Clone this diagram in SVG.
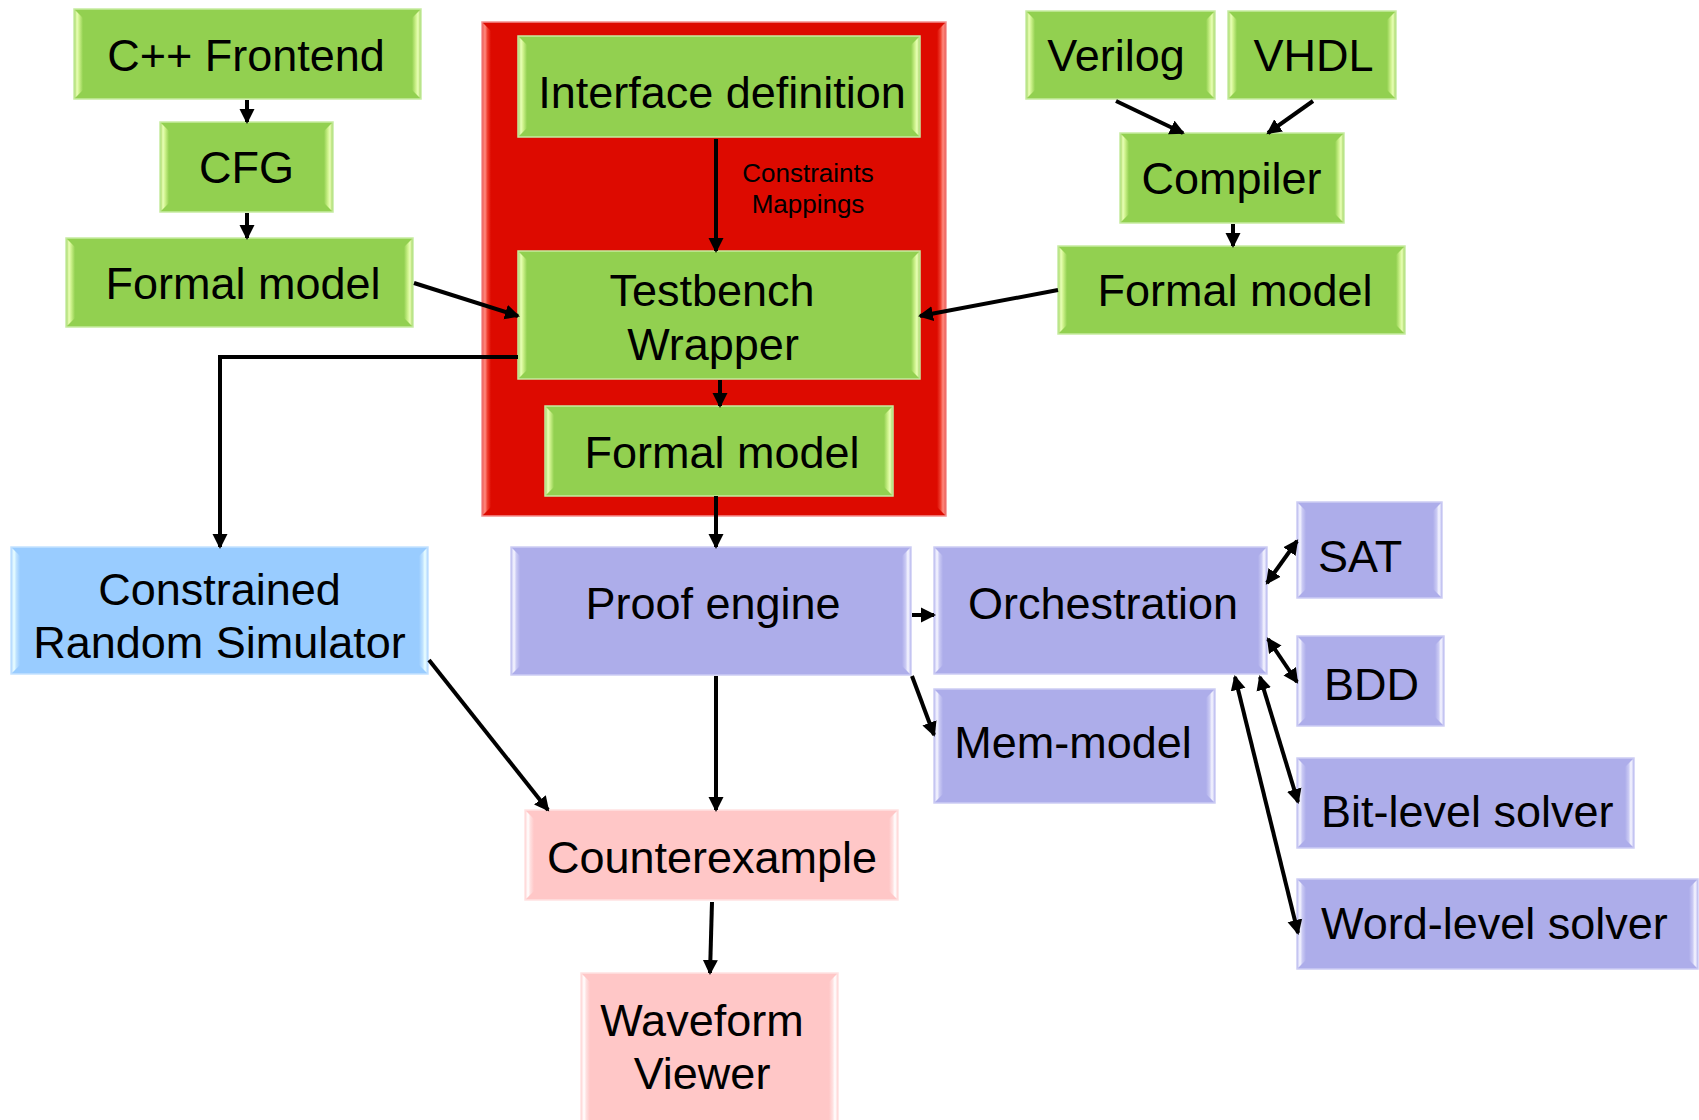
<svg xmlns="http://www.w3.org/2000/svg" width="1699" height="1120" viewBox="0 0 1699 1120">
  <defs>
    <style>
      text { font-family: "Liberation Sans", Arial, Helvetica, sans-serif; fill: #000; }
      .t { font-size: 45px; text-anchor: middle; }
      .tl { font-size: 45px; text-anchor: start; }
      .small { font-size: 26px; text-anchor: middle; }
      .edge { fill: none; stroke: #000; stroke-width: 4; }
      .one { marker-end: url(#head); }
      .two { marker-start: url(#head); marker-end: url(#head); }
      .green { fill: #92d050; stroke: #c6eba0; stroke-width: 1.5; }
      .red { fill: #dd0a00; stroke: #f39090; stroke-width: 1.5; }
      .purple { fill: #adadea; stroke: #cdcdf4; stroke-width: 1.5; }
      .blue { fill: #99ccff; stroke: #c4e2ff; stroke-width: 1.5; }
      .pink { fill: #ffc7c7; stroke: #ffe2e2; stroke-width: 1.5; }
    </style>
    <!-- side bevel highlights, one pair per fill colour -->
    <linearGradient id="gL-green" x1="0" y1="0" x2="1" y2="0">
      <stop offset="0" stop-color="#b8e07a"/>
      <stop offset="0.25" stop-color="#e8ffb6"/>
      <stop offset="0.5" stop-color="#d0f38e"/>
      <stop offset="1" stop-color="#92d050"/>
    </linearGradient>
    <linearGradient id="gR-green" x1="1" y1="0" x2="0" y2="0">
      <stop offset="0" stop-color="#b8e07a"/>
      <stop offset="0.25" stop-color="#e8ffb6"/>
      <stop offset="0.5" stop-color="#d0f38e"/>
      <stop offset="1" stop-color="#92d050"/>
    </linearGradient>
    <linearGradient id="gL-red" x1="0" y1="0" x2="1" y2="0">
      <stop offset="0" stop-color="#f06a60"/>
      <stop offset="0.25" stop-color="#ff8a80"/>
      <stop offset="0.55" stop-color="#f04030"/>
      <stop offset="1" stop-color="#dd0a00"/>
    </linearGradient>
    <linearGradient id="gR-red" x1="1" y1="0" x2="0" y2="0">
      <stop offset="0" stop-color="#f06a60"/>
      <stop offset="0.25" stop-color="#ff8a80"/>
      <stop offset="0.55" stop-color="#f04030"/>
      <stop offset="1" stop-color="#dd0a00"/>
    </linearGradient>
    <linearGradient id="gL-purple" x1="0" y1="0" x2="1" y2="0">
      <stop offset="0" stop-color="#d0d0f6"/>
      <stop offset="0.25" stop-color="#f6f6ff"/>
      <stop offset="0.55" stop-color="#cacaf4"/>
      <stop offset="1" stop-color="#adadea"/>
    </linearGradient>
    <linearGradient id="gR-purple" x1="1" y1="0" x2="0" y2="0">
      <stop offset="0" stop-color="#d0d0f6"/>
      <stop offset="0.25" stop-color="#f6f6ff"/>
      <stop offset="0.55" stop-color="#cacaf4"/>
      <stop offset="1" stop-color="#adadea"/>
    </linearGradient>
    <linearGradient id="gL-blue" x1="0" y1="0" x2="1" y2="0">
      <stop offset="0" stop-color="#c4e2ff"/>
      <stop offset="0.25" stop-color="#eaffff"/>
      <stop offset="0.55" stop-color="#bfe2ff"/>
      <stop offset="1" stop-color="#99ccff"/>
    </linearGradient>
    <linearGradient id="gR-blue" x1="1" y1="0" x2="0" y2="0">
      <stop offset="0" stop-color="#c4e2ff"/>
      <stop offset="0.25" stop-color="#eaffff"/>
      <stop offset="0.55" stop-color="#bfe2ff"/>
      <stop offset="1" stop-color="#99ccff"/>
    </linearGradient>
    <linearGradient id="gL-pink" x1="0" y1="0" x2="1" y2="0">
      <stop offset="0" stop-color="#ffe2e2"/>
      <stop offset="0.25" stop-color="#ffffff"/>
      <stop offset="0.55" stop-color="#ffe0e0"/>
      <stop offset="1" stop-color="#ffc7c7"/>
    </linearGradient>
    <linearGradient id="gR-pink" x1="1" y1="0" x2="0" y2="0">
      <stop offset="0" stop-color="#ffe2e2"/>
      <stop offset="0.25" stop-color="#ffffff"/>
      <stop offset="0.55" stop-color="#ffe0e0"/>
      <stop offset="1" stop-color="#ffc7c7"/>
    </linearGradient>
    <marker id="head" markerUnits="userSpaceOnUse" markerWidth="16" markerHeight="16" refX="13" refY="7.5" orient="auto-start-reverse" viewBox="0 0 16 15">
      <path d="M0,0 L15,7.5 L0,15 Z" fill="#000"/>
    </marker>
  </defs>

  <rect width="1699" height="1120" fill="#fff"/>

  <!-- testbench container -->
  <g id="testbench-block">
    <rect class="red" x="482" y="22" width="464" height="494"/>
    <path d="M483,23 L491,31 L491,507 L483,515 Z" fill="url(#gL-red)"/>
    <path d="M945,23 L937,31 L937,507 L945,515 Z" fill="url(#gR-red)"/>
  </g>

  <!-- C++ input chain -->
  <g id="cpp-frontend">
    <rect class="green" x="74" y="9" width="347" height="90"/>
    <path d="M75,10 L83,18 L83,90 L75,98 Z" fill="url(#gL-green)"/>
    <path d="M420,10 L412,18 L412,90 L420,98 Z" fill="url(#gR-green)"/>
    <text class="t" x="246" y="71">C++ Frontend</text>
  </g>
  <g id="cfg">
    <rect class="green" x="160" y="122" width="173" height="90"/>
    <path d="M161,123 L169,131 L169,203 L161,211 Z" fill="url(#gL-green)"/>
    <path d="M332,123 L324,131 L324,203 L332,211 Z" fill="url(#gR-green)"/>
    <text class="t" x="246.5" y="183">CFG</text>
  </g>
  <g id="formal-model-cpp">
    <rect class="green" x="66" y="238" width="347" height="89"/>
    <path d="M67,239 L75,247 L75,318 L67,326 Z" fill="url(#gL-green)"/>
    <path d="M412,239 L404,247 L404,318 L412,326 Z" fill="url(#gR-green)"/>
    <text class="t" x="243" y="299">Formal model</text>
  </g>

  <!-- testbench contents -->
  <g id="interface-definition">
    <rect class="green" x="518" y="36" width="402" height="101"/>
    <path d="M519,37 L527,45 L527,128 L519,136 Z" fill="url(#gL-green)"/>
    <path d="M919,37 L911,45 L911,128 L919,136 Z" fill="url(#gR-green)"/>
    <text class="t" x="722" y="108">Interface definition</text>
  </g>
  <g id="testbench-wrapper">
    <rect class="green" x="518" y="251" width="402" height="128"/>
    <path d="M519,252 L527,260 L527,370 L519,378 Z" fill="url(#gL-green)"/>
    <path d="M919,252 L911,260 L911,370 L919,378 Z" fill="url(#gR-green)"/>
    <text class="t" x="712" y="306">Testbench</text>
    <text class="t" x="713" y="360">Wrapper</text>
  </g>
  <g id="formal-model-tb">
    <rect class="green" x="545" y="406" width="348" height="90"/>
    <path d="M546,407 L554,415 L554,487 L546,495 Z" fill="url(#gL-green)"/>
    <path d="M892,407 L884,415 L884,487 L892,495 Z" fill="url(#gR-green)"/>
    <text class="t" x="722" y="468">Formal model</text>
  </g>

  <!-- HDL input chain -->
  <g id="verilog">
    <rect class="green" x="1026" y="11" width="189" height="88"/>
    <path d="M1027,12 L1035,20 L1035,90 L1027,98 Z" fill="url(#gL-green)"/>
    <path d="M1214,12 L1206,20 L1206,90 L1214,98 Z" fill="url(#gR-green)"/>
    <text class="t" x="1116" y="71">Verilog</text>
  </g>
  <g id="vhdl">
    <rect class="green" x="1228" y="11" width="168" height="88"/>
    <path d="M1229,12 L1237,20 L1237,90 L1229,98 Z" fill="url(#gL-green)"/>
    <path d="M1395,12 L1387,20 L1387,90 L1395,98 Z" fill="url(#gR-green)"/>
    <text class="t" x="1313.5" y="71">VHDL</text>
  </g>
  <g id="compiler">
    <rect class="green" x="1120" y="133" width="224" height="90"/>
    <path d="M1121,134 L1129,142 L1129,214 L1121,222 Z" fill="url(#gL-green)"/>
    <path d="M1343,134 L1335,142 L1335,214 L1343,222 Z" fill="url(#gR-green)"/>
    <text class="t" x="1231.5" y="194">Compiler</text>
  </g>
  <g id="formal-model-hdl">
    <rect class="green" x="1058" y="246" width="347" height="88"/>
    <path d="M1059,247 L1067,255 L1067,325 L1059,333 Z" fill="url(#gL-green)"/>
    <path d="M1404,247 L1396,255 L1396,325 L1404,333 Z" fill="url(#gR-green)"/>
    <text class="t" x="1235" y="306">Formal model</text>
  </g>

  <!-- simulation -->
  <g id="constrained-random-simulator">
    <rect class="blue" x="11" y="547" width="417" height="127"/>
    <path d="M12,548 L20,556 L20,665 L12,673 Z" fill="url(#gL-blue)"/>
    <path d="M427,548 L419,556 L419,665 L427,673 Z" fill="url(#gR-blue)"/>
    <text class="t" x="219.5" y="605">Constrained</text>
    <text class="t" x="219.5" y="658">Random Simulator</text>
  </g>

  <!-- formal engines -->
  <g id="proof-engine">
    <rect class="purple" x="511" y="547" width="400" height="128"/>
    <path d="M512,548 L520,556 L520,666 L512,674 Z" fill="url(#gL-purple)"/>
    <path d="M910,548 L902,556 L902,666 L910,674 Z" fill="url(#gR-purple)"/>
    <text class="t" x="713" y="619">Proof engine</text>
  </g>
  <g id="orchestration">
    <rect class="purple" x="934" y="547" width="333" height="127"/>
    <path d="M935,548 L943,556 L943,665 L935,673 Z" fill="url(#gL-purple)"/>
    <path d="M1266,548 L1258,556 L1258,665 L1266,673 Z" fill="url(#gR-purple)"/>
    <text class="t" x="1103" y="619">Orchestration</text>
  </g>
  <g id="mem-model">
    <rect class="purple" x="934" y="689" width="281" height="114"/>
    <path d="M935,690 L943,698 L943,794 L935,802 Z" fill="url(#gL-purple)"/>
    <path d="M1214,690 L1206,698 L1206,794 L1214,802 Z" fill="url(#gR-purple)"/>
    <text class="t" x="1073" y="758">Mem-model</text>
  </g>
  <g id="sat">
    <rect class="purple" x="1297" y="502" width="145" height="96"/>
    <path d="M1298,503 L1306,511 L1306,589 L1298,597 Z" fill="url(#gL-purple)"/>
    <path d="M1441,503 L1433,511 L1433,589 L1441,597 Z" fill="url(#gR-purple)"/>
    <text class="tl" x="1318" y="572">SAT</text>
  </g>
  <g id="bdd">
    <rect class="purple" x="1297" y="636" width="147" height="90"/>
    <path d="M1298,637 L1306,645 L1306,717 L1298,725 Z" fill="url(#gL-purple)"/>
    <path d="M1443,637 L1435,645 L1435,717 L1443,725 Z" fill="url(#gR-purple)"/>
    <text class="tl" x="1324" y="700">BDD</text>
  </g>
  <g id="bit-level-solver">
    <rect class="purple" x="1297" y="758" width="337" height="90"/>
    <path d="M1298,759 L1306,767 L1306,839 L1298,847 Z" fill="url(#gL-purple)"/>
    <path d="M1633,759 L1625,767 L1625,839 L1633,847 Z" fill="url(#gR-purple)"/>
    <text class="tl" x="1321" y="827">Bit-level solver</text>
  </g>
  <g id="word-level-solver">
    <rect class="purple" x="1297" y="879" width="401" height="90"/>
    <path d="M1298,880 L1306,888 L1306,960 L1298,968 Z" fill="url(#gL-purple)"/>
    <path d="M1697,880 L1689,888 L1689,960 L1697,968 Z" fill="url(#gR-purple)"/>
    <text class="tl" x="1321" y="939">Word-level solver</text>
  </g>

  <!-- results -->
  <g id="counterexample">
    <rect class="pink" x="525" y="810" width="373" height="90"/>
    <path d="M526,811 L534,819 L534,891 L526,899 Z" fill="url(#gL-pink)"/>
    <path d="M897,811 L889,819 L889,891 L897,899 Z" fill="url(#gR-pink)"/>
    <text class="t" x="712" y="873">Counterexample</text>
  </g>
  <g id="waveform-viewer">
    <rect class="pink" x="581" y="973" width="257" height="170"/>
    <path d="M582,974 L590,982 L590,1130 L582,1130 Z" fill="url(#gL-pink)"/>
    <path d="M837,974 L829,982 L829,1130 L837,1130 Z" fill="url(#gR-pink)"/>
    <text class="t" x="702" y="1036">Waveform</text>
    <text class="t" x="702" y="1089">Viewer</text>
  </g>

  <!-- connectors -->
  <g id="connectors">
    <line class="edge one" x1="247" y1="100" x2="247" y2="122"/>
    <line class="edge one" x1="247" y1="213" x2="247" y2="238"/>
    <line class="edge one" x1="414" y1="283" x2="518" y2="316"/>
    <line class="edge one" x1="716" y1="139" x2="716" y2="251"/>
    <text class="small" x="808" y="182">Constraints</text>
    <text class="small" x="808" y="213">Mappings</text>
    <line class="edge one" x1="720" y1="380" x2="720" y2="406"/>
    <line class="edge one" x1="1058" y1="290" x2="920" y2="316"/>
    <line class="edge one" x1="1116" y1="101" x2="1183" y2="133"/>
    <line class="edge one" x1="1313" y1="101" x2="1268" y2="133"/>
    <line class="edge one" x1="1233" y1="224" x2="1233" y2="246"/>
    <polyline class="edge one" points="518,357 220,357 220,547"/>
    <line class="edge one" x1="716" y1="496" x2="716" y2="547"/>
    <line class="edge one" x1="912" y1="615" x2="934" y2="615"/>
    <line class="edge one" x1="912" y1="676" x2="934" y2="735"/>
    <line class="edge one" x1="716" y1="676" x2="716" y2="810"/>
    <line class="edge one" x1="429" y1="660" x2="548" y2="810"/>
    <line class="edge one" x1="712" y1="902" x2="710" y2="973"/>
    <line class="edge two" x1="1267" y1="583" x2="1297" y2="541"/>
    <line class="edge two" x1="1268" y1="639" x2="1297" y2="682"/>
    <line class="edge two" x1="1260" y1="677" x2="1298" y2="802"/>
    <line class="edge two" x1="1235" y1="677" x2="1298" y2="933"/>
  </g>
</svg>
